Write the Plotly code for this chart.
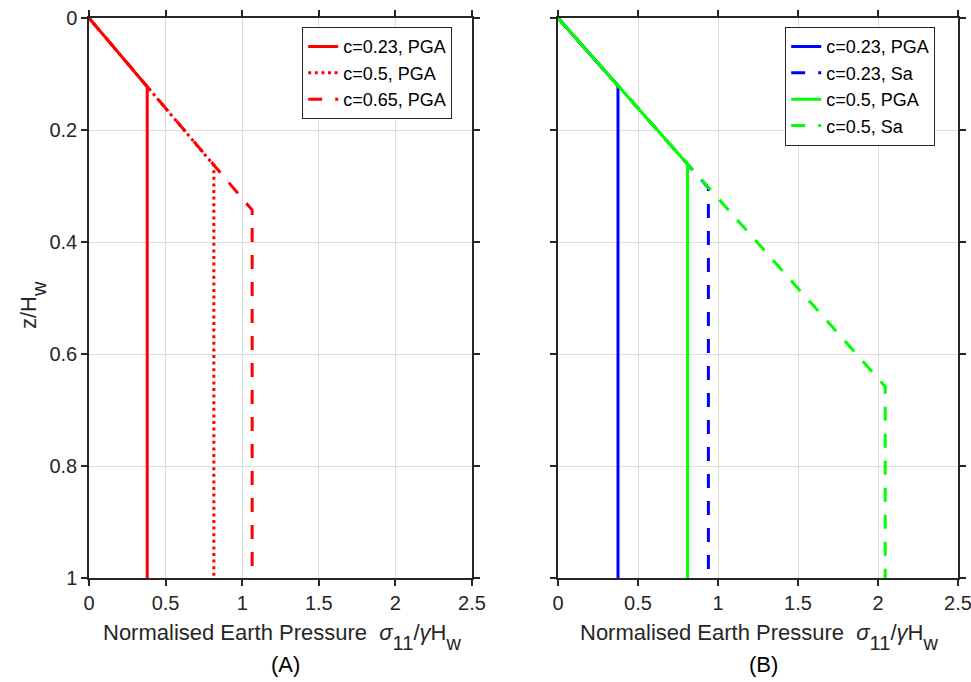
import plotly.graph_objects as go

# ---- data ----
# Panel A: profile = linear increase then constant with depth
a_names = ["c=0.23, PGA", "c=0.5, PGA", "c=0.65, PGA"]
a_sigma = [0.38, 0.815, 1.065]      # constant normalised pressure
a_zknee = [0.123, 0.263, 0.343]     # depth where profile becomes constant
a_dash = ["solid", "3px,3.6px", "14px,13px"]
a_color = ["#FF0000", "#FF0000", "#FF0000"]

b_names = ["c=0.23, PGA", "c=0.23, Sa", "c=0.5, PGA", "c=0.5, Sa"]
b_sigma = [0.375, 0.94, 0.81, 2.045]
b_zknee = [0.121, 0.303, 0.261, 0.658]
b_dash = ["solid", "14px,13px", "solid", "14px,13px"]
b_color = ["#0000FF", "#0000FF", "#00FF00", "#00FF00"]

z_top, z_bot = 0.0, 1.0
xticks = [0, 0.5, 1, 1.5, 2, 2.5]
xticklabels = ["0", "0.5", "1", "1.5", "2", "2.5"]
yticks = [0, 0.2, 0.4, 0.6, 0.8, 1]
yticklabels = ["0", "0.2", "0.4", "0.6", "0.8", "1"]

FONT = "Liberation Sans, Arial, sans-serif"
W, H = 971, 682

fig = go.Figure()

def add_profiles(names, sig, zk, dashes, colors, xa, ya, legend):
    for n, s, z, d, c in zip(names, sig, zk, dashes, colors):
        fig.add_trace(go.Scatter(
            x=[0, s, s], y=[z_top, z, z_bot], mode="lines", name=n,
            line=dict(color=c, width=3, dash=d),
            xaxis=xa, yaxis=ya, legend=legend, showlegend=True))

add_profiles(a_names, a_sigma, a_zknee, a_dash, a_color, "x", "y", "legend")
add_profiles(b_names, b_sigma, b_zknee, b_dash, b_color, "x2", "y2", "legend2")

def px_x(p):
    return p / W

def px_y(p):
    return 1 - p / H

ytop, ybot = 18, 578
axcommon = dict(showline=True, linecolor="#262626", linewidth=1.5, mirror="ticks",
                ticks="outside", ticklen=6, tickwidth=1.5, tickcolor="#262626",
                showgrid=True, gridcolor="#DCDCDC", gridwidth=1.2, zeroline=False,
                automargin=False, ticklabeloverflow="allow",
                tickfont=dict(family=FONT, size=20, color="#262626"))

leg = dict(xanchor="left", yanchor="top", bgcolor="white", bordercolor="#262626",
           borderwidth=1.2, font=dict(family=FONT, size=18, color="#000000"),
           itemwidth=30, tracegroupgap=0)

fig.update_layout(
    width=W, height=H, margin=dict(l=0, r=0, t=0, b=0, pad=0, autoexpand=False),
    paper_bgcolor="white", plot_bgcolor="white",
    font=dict(family=FONT, color="#262626"),
    xaxis=dict(domain=[px_x(89), px_x(472)], range=[0, 2.5], tickvals=xticks,
               ticktext=xticklabels, anchor="y", **axcommon),
    yaxis=dict(domain=[px_y(ybot), px_y(ytop)], range=[1, 0], tickvals=yticks,
               ticktext=yticklabels, anchor="x", **axcommon),
    xaxis2=dict(domain=[px_x(558), px_x(958)], range=[0, 2.5], tickvals=xticks,
                ticktext=xticklabels, anchor="y2", **axcommon),
    yaxis2=dict(domain=[px_y(ybot), px_y(ytop)], range=[1, 0], tickvals=yticks,
                ticktext=yticklabels, anchor="x2", showticklabels=False, **axcommon),
    legend=dict(x=px_x(302), y=px_y(27), **leg),
    legend2=dict(x=px_x(785), y=px_y(27), **leg),
)

SUB = '<sub><span style="font-size:20px;baseline-shift:-5px">{}</span></sub>'
xlab = ("Normalised Earth Pressure  <i>σ</i>" + SUB.format("11") +
        "/<i>γ</i>H" + SUB.format("w"))
for cx, lab in [((89 + 472) / 2, "(A)"), ((558 + 958) / 2, "(B)")]:
    fig.add_annotation(text=xlab, x=px_x(cx + 1), y=px_y(630), xref="paper", yref="paper",
                       showarrow=False, xanchor="center", yanchor="top",
                       yshift=12,
                       font=dict(family=FONT, size=22, color="#262626"))
    fig.add_annotation(text=lab, x=px_x(cx + 5), y=px_y(664), xref="paper", yref="paper",
                       showarrow=False, xanchor="center", yanchor="middle",
                       font=dict(family=FONT, size=22, color="#000000"))

fig.add_annotation(text="z/H" + SUB.format("w"), x=px_x(14), y=px_y(305),
                   xref="paper", yref="paper",
                   showarrow=False, textangle=-90, xanchor="left", yanchor="middle",
                   font=dict(family=FONT, size=22, color="#262626"))

fig.write_html("out.html")
